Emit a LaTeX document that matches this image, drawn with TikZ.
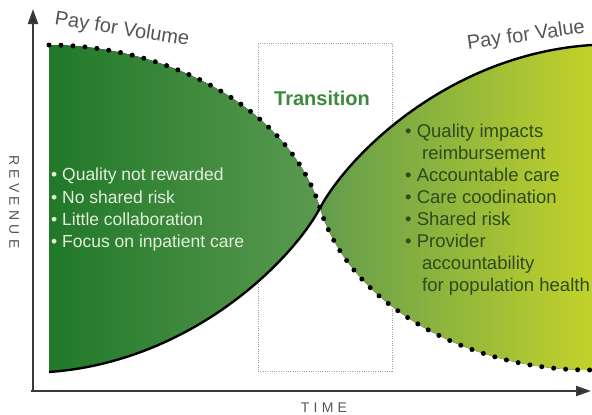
\documentclass[tikz,border=0pt]{standalone}
\usepackage{fontspec}
\setmainfont{Liberation Sans}
\newfontfamily\trackedfont[LetterSpace=30]{Liberation Sans}
\usetikzlibrary{arrows.meta}
\definecolor{volumedark}{HTML}{217829}
\definecolor{volumelight}{HTML}{5A9A50}
\definecolor{valuedark}{HTML}{629C4C}
\definecolor{valuelight}{HTML}{C3D22A}
\definecolor{axisgray}{HTML}{3A3A3A}
\definecolor{arrowdark}{HTML}{26382B}
\definecolor{labelgray}{HTML}{555555}
\definecolor{lighttext}{HTML}{E4EEDC}
\definecolor{darktext}{HTML}{2E4A1F}
\definecolor{transgreen}{HTML}{3B8A3C}
\tikzset{
  solidedge/.style={line width=2.4pt, black},
  dotedge/.style={line width=5pt, black, line cap=round, dash pattern=on 0pt off 12pt},
  transbox/.style={draw=gray!75, line width=1pt, dash pattern=on 1pt off 1.3pt},
  axisline/.style={draw=axisgray, line width=2pt,
    -{Triangle[length=15pt,width=10pt,fill=arrowdark]}},
  title/.style={text=labelgray, font=\fontsize{20}{24}\selectfont, inner sep=0pt},
  axislabel/.style={text=labelgray, font=\fontsize{14}{16}\trackedfont, inner sep=0pt},
  listtext/.style={align=left, inner sep=0pt, anchor=north west}
}
\begin{document}
\begin{tikzpicture}[x=1pt,y=-1pt]
\useasboundingbox (0,0) rectangle (592,415);
% key points of the two revenue curves
\coordinate (vtop) at (49,45);
\coordinate (vbot) at (49,372);
\coordinate (cross) at (320,208);
\coordinate (rtop) at (592,45);
\coordinate (rbot) at (592,370);
% transition window, behind the areas
\node[transbox, minimum width=134pt, minimum height=328pt, inner sep=0pt] (window) at (325,207) {};
% pay for volume area
\fill[left color=volumedark, right color=volumelight]
  (vtop) .. controls (170,45) and (290,110) .. (cross)
  .. controls (291,262) and (190,362) .. (vbot) -- cycle;
% pay for value area
\fill[left color=valuedark, right color=valuelight]
  (cross) .. controls (349,154) and (450,54) .. (rtop)
  -- (rbot) .. controls (470,371) and (350,306) .. (cross) -- cycle;
% curve outlines
\draw[solidedge] (vbot) .. controls (190,362) and (291,262) .. (cross)
  .. controls (349,154) and (450,54) .. (rtop);
\draw[dotedge] (vtop) .. controls (170,45) and (290,110) .. (cross)
  .. controls (350,306) and (470,371) .. (rbot);
% axes
\coordinate (origin) at (31,391);
\coordinate (ytip) at (33,9);
\coordinate (xtip) at (591,391);
\draw[axisline] (33,392) -- (ytip);
\draw[axisline] (origin) -- (xtip);
% labels
\node[title, rotate=-9] (volume) at (122,30) {Pay for Volume};
\node[title, rotate=8] (value) at (526,36) {Pay for Value};
\node[text=transgreen, font=\fontsize{20}{24}\selectfont\bfseries, inner sep=0pt] (transition) at (322,98) {Transition};
\node[axislabel, rotate=-90] (revenue) at (14,202) {REVENUE};
\node[axislabel] (time) at (324,408) {TIME};
\node[listtext, text=lighttext, font=\fontsize{17.5}{22.3}\selectfont] (volumelist) at (51,168) {%
  \textbullet\ Quality not rewarded\\
  \textbullet\ No shared risk\\
  \textbullet\ Little collaboration\\
  \textbullet\ Focus on inpatient care};
\node[listtext, text=darktext, font=\fontsize{18.5}{22}\selectfont] (valuelist) at (405,124) {%
  \textbullet\ Quality impacts\\
  \hspace*{17pt}reimbursement\\
  \textbullet\ Accountable care\\
  \textbullet\ Care coodination\\
  \textbullet\ Shared risk\\
  \textbullet\ Provider\\
  \hspace*{17pt}accountability\\
  \hspace*{17pt}for population health};
\end{tikzpicture}
\end{document}
